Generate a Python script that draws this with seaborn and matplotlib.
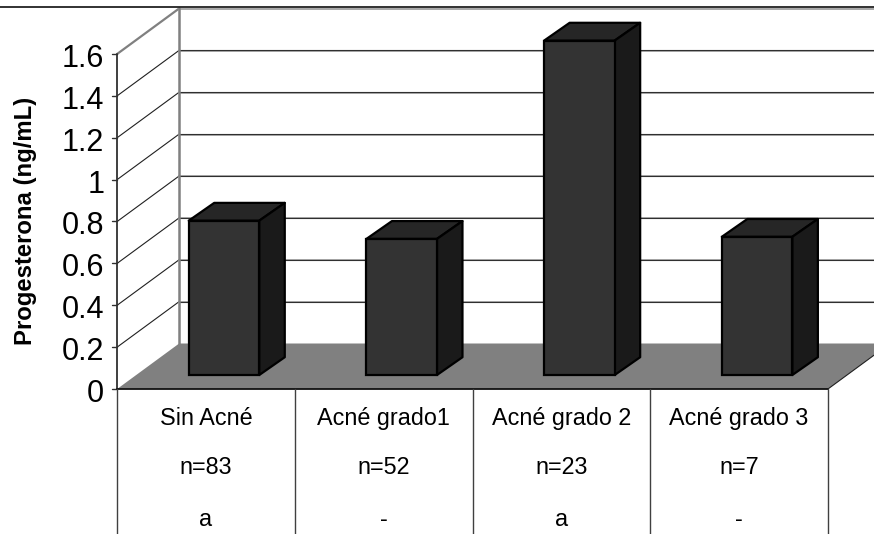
import matplotlib
matplotlib.use("Agg")
import matplotlib.pyplot as plt
import seaborn as sns
from matplotlib.patches import Polygon

sns.set_theme(style="white")
plt.rcParams["font.family"] = ["Liberation Sans", "DejaVu Sans"]

# Data
grupos = ["Sin Acné", "Acné grado1", "Acné grado 2", "Acné grado 3"]
n_labels = ["n=83", "n=52", "n=23", "n=7"]
letras = ["a", "-", "a", "-"]
progesterona = [0.737, 0.650, 1.597, 0.660]
y_ticks = [0, 0.2, 0.4, 0.6, 0.8, 1.0, 1.2, 1.4, 1.6]
y_tick_labels = ["0", "0.2", "0.4", "0.6", "0.8", "1", "1.2", "1.4", "1.6"]

# Pixel scale of the fake 3D plane the bars stand on
W, H = 874, 534
x0_px, x_step = 224.0, 177.7
y0_px, y_step = 375.0, 209.4
bar_width = 0.397


def sx(px):
    return px / x_step


def sy(px):
    return px / y_step


fig = plt.figure(figsize=(W / 100, H / 100), dpi=100, facecolor="white")
ax = fig.add_axes([0, 0, 1, 1])

sns.barplot(x=grupos, y=progesterona, order=grupos, color="#333333", saturation=1,
            width=bar_width, edgecolor="black", linewidth=1.6, zorder=6, ax=ax)

ax.set_xlim(-x0_px / x_step, (W - x0_px) / x_step)
ax.set_ylim((y0_px - H) / y_step, y0_px / y_step)
ax.axis("off")

# offsets from the bar plane to the front and back planes of the box
front_dx, front_dy = sx(-18), sy(-14)
back_dx, back_dy = sx(44), sy(31.5)
left = -0.5
right = len(grupos) - 0.5
x_end = ax.get_xlim()[1]

# floor
ax.add_patch(Polygon([(left + front_dx, front_dy), (right + front_dx, front_dy),
                      (right + back_dx, back_dy), (left + back_dx, back_dy)],
                     closed=True, facecolor="#808080", edgecolor="none", zorder=2))

# gridlines on side and back wall
for v in y_ticks:
    if v == 0:
        continue
    top = v == y_ticks[-1]
    ax.plot([left + front_dx, left + back_dx], [v + front_dy, v + back_dy],
            color="#808080" if top else "#202020", lw=1.6 if top else 0.8, zorder=3)
    ax.plot([left + back_dx, x_end], [v + back_dy - sy(0.5), v + back_dy - sy(0.5)],
            color="#a8a8a8", lw=1.4, zorder=3)
    if not top:
        ax.plot([left + back_dx, x_end], [v + back_dy, v + back_dy],
                color="#303030", lw=0.8, zorder=3)

# back wall left edge, y axis, frame line on top
ax.plot([left + back_dx] * 2, [back_dy, y_ticks[-1] + back_dy], color="#808080", lw=1.8, zorder=3)
ax.plot([left + front_dx] * 2, [front_dy, y_ticks[-1] + front_dy], color="#303030", lw=1.3, zorder=4)
ax.plot(ax.get_xlim(), [sy(y0_px - 6.5)] * 2, color="#222222", lw=1.3, zorder=4)

# y ticks and labels
for v, lab in zip(y_ticks, y_tick_labels):
    ax.plot([left + front_dx - sx(5), left + front_dx], [v + front_dy] * 2,
            color="#303030", lw=1, zorder=4)
    ax.text(left + front_dx - sx(13), v + front_dy - sy(1.5), lab, ha="right",
            va="center_baseline", fontsize=22, color="black")

ax.text(sx(25 - x0_px), sy(y0_px - 221), "Progesterona (ng/mL)", rotation=90, ha="center",
        va="center", fontsize=17.2, fontweight="bold", color="black")

# 3D faces of the bars
for i, val in enumerate(progesterona):
    l, r = i - bar_width / 2, i + bar_width / 2
    dx, dy = sx(25.5), sy(17.8)
    ax.add_patch(Polygon([(l, val), (r, val), (r + dx, val + dy), (l + dx, val + dy)],
                         closed=True, facecolor="#262626", edgecolor="black", lw=1.6,
                         joinstyle="round", zorder=5))
    ax.add_patch(Polygon([(r, 0), (r + dx, dy), (r + dx, val + dy), (r, val)],
                         closed=True, facecolor="#1a1a1a", edgecolor="black", lw=1.6,
                         joinstyle="round", zorder=5))

# table under the chart
ax.plot([left + front_dx, right + front_dx], [front_dy, front_dy], color="#111111", lw=1.3, zorder=4)
ax.plot([right + front_dx, x_end], [front_dy, front_dy + (x_end - right - front_dx) * x_step * (45.5 / 62) / y_step],
        color="#202020", lw=0.8, zorder=4)
y_bottom = ax.get_ylim()[0]
for i in range(len(grupos) + 1):
    ax.plot([left + i + front_dx] * 2, [front_dy, y_bottom], color="#404040", lw=1, zorder=4)
for i, (g, n, l) in enumerate(zip(grupos, n_labels, letras)):
    xc = i + front_dx
    ax.text(xc, sy(y0_px - 418.5), g, ha="center", va="center", fontsize=16.8, color="black")
    ax.text(xc, sy(y0_px - 468), n, ha="center", va="center", fontsize=16.8, color="black")
    ax.text(xc, sy(y0_px - 519.5), l, ha="center", va="center", fontsize=16.8, color="black")

plt.savefig("out.png", dpi=100)
